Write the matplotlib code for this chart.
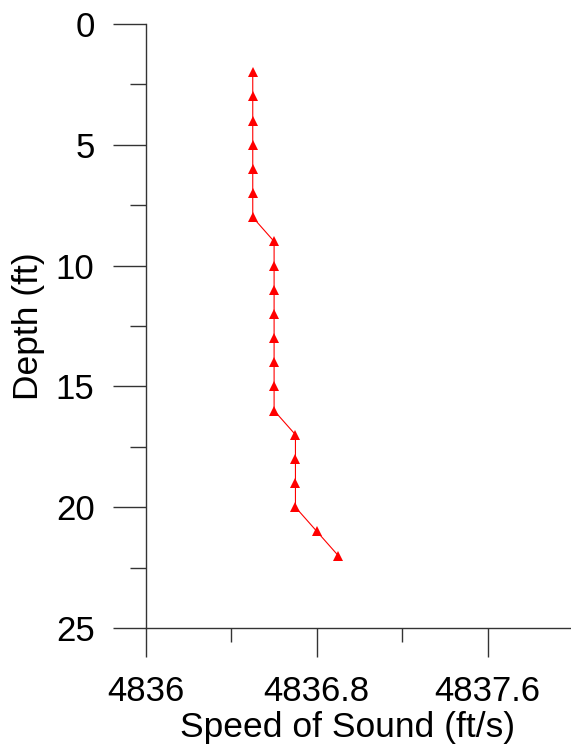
import numpy as np
import matplotlib
matplotlib.use('Agg')
import matplotlib.pyplot as plt
from matplotlib.ticker import MultipleLocator

depth = [2, 3, 4, 5, 6, 7, 8, 9, 10, 11, 12, 13, 14, 15, 16, 17, 18, 19, 20, 21, 22]
speed = [4836.5, 4836.5, 4836.5, 4836.5, 4836.5, 4836.5, 4836.5,
         4836.6, 4836.6, 4836.6, 4836.6, 4836.6, 4836.6, 4836.6, 4836.6,
         4836.7, 4836.7, 4836.7, 4836.7, 4836.8, 4836.9]
xtick_vals = [4836, 4836.8, 4837.6]
xtick_labels = ['4836', '4836.8', '4837.6']

plt.rcParams['font.family'] = ['Liberation Sans', 'DejaVu Sans']

fig = plt.figure(figsize=(5.71, 7.49), dpi=100)
W, H = 571, 749
ax = fig.add_axes([146 / W, 1 - 628 / H, 427 / W, 604 / H])

ax.plot(speed, depth, color='red', lw=0.8, marker='^', markersize=6.5,
        markeredgewidth=0, clip_on=False)

ax.set_xlim(4836, 4838)
ax.set_ylim(25, 0)
ax.xaxis.set_minor_locator(MultipleLocator(0.4))
ax.yaxis.set_major_locator(MultipleLocator(5))
ax.yaxis.set_minor_locator(MultipleLocator(2.5))
ax.set_xticks(xtick_vals)
ax.set_xticklabels(xtick_labels)

for s in ['top', 'right']:
    ax.spines[s].set_visible(False)
for s in ['left', 'bottom']:
    ax.spines[s].set_linewidth(1.0)
    ax.spines[s].set_color('#333333')

ax.tick_params(axis='x', which='major', length=21, width=1, pad=13, labelsize=25, color='#333333')
ax.tick_params(axis='x', which='minor', length=10, width=1, color='#333333')
ax.tick_params(axis='y', which='major', length=24, width=1, pad=13, labelsize=25, color='#333333')
ax.tick_params(axis='y', which='minor', length=11.5, width=1, color='#333333')

ax.set_xlabel('Speed of Sound (ft/s)', fontsize=25.5)
ax.set_ylabel('Depth (ft)', fontsize=25.5)
ax.xaxis.set_label_coords(0.473, -0.137)
ax.yaxis.set_label_coords(-0.237, 0.5)

fig.savefig('out.png', dpi=100)
